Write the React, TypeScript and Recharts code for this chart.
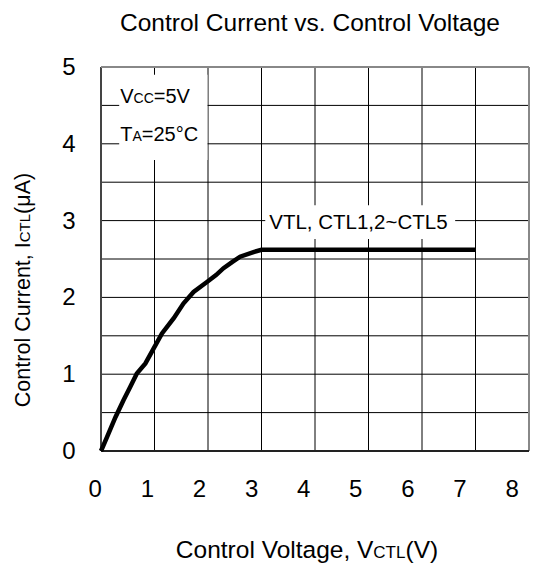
import React from "react";
import {
  CartesianGrid,
  Line,
  LineChart,
  ReferenceArea,
  ReferenceLine,
  XAxis,
  YAxis,
} from "recharts";

// control voltage (V) vs control current (uA)
const vctl = [0, 0.1, 0.27, 0.42, 0.55, 0.67, 0.83, 0.98, 1.14, 1.36, 1.54, 1.73, 1.98, 2.15, 2.29, 2.45, 2.6, 2.85, 3.0, 4.0, 5.0, 6.0, 7.0];
const ictl = [0, 0.16, 0.44, 0.66, 0.84, 1.01, 1.14, 1.33, 1.53, 1.73, 1.92, 2.07, 2.2, 2.29, 2.38, 2.46, 2.53, 2.59, 2.62, 2.62, 2.62, 2.62, 2.62];

const xTicks = [0, 1, 2, 3, 4, 5, 6, 7, 8];
const yTicks = [0, 0.5, 1, 1.5, 2, 2.5, 3, 3.5, 4, 4.5, 5];

const rows = vctl.map((v, i) => ({ v, i: ictl[i] }));

const W = 534;
const H = 567;
const PLOT_TOP = 67;
const PLOT_BOTTOM = 451;
const FONT = "'Liberation Sans', Arial, sans-serif";

const XTick = (props: any) => {
  const { x, payload } = props;
  const v = payload.value as number;
  // printed labels sit a little left of the grid lines, more so to the right
  const dx = -(5.7 + 1.4 * v);
  return (
    <text x={x + dx} y={PLOT_BOTTOM + 46} textAnchor="middle" fontSize={24} fill="#000" fontFamily={FONT}>
      {v}
    </text>
  );
};

const YTick = (props: any) => {
  const { y, payload } = props;
  const v = payload.value as number;
  if (v % 1 !== 0) return null;
  return (
    <text x={69} y={y + 8} textAnchor="middle" fontSize={24} fill="#000" fontFamily={FONT}>
      {v}
    </text>
  );
};

const CondLabel = (props: any) => {
  const { viewBox } = props;
  const x = viewBox.x + 1;
  return (
    <g fontFamily={FONT} fill="#000">
      <text x={x} y={viewBox.y + 28} fontSize={20}>
        V<tspan fontSize={14}>CC</tspan>=5V
      </text>
      <text x={x} y={viewBox.y + 66} fontSize={20}>
        T<tspan fontSize={14}>A</tspan>=25°C
      </text>
    </g>
  );
};

const CurveLabel = (props: any) => {
  const { viewBox } = props;
  return (
    <text x={viewBox.x + 4} y={viewBox.y + 24} fontSize={20.5} fontFamily={FONT} fill="#000">
      VTL, CTL1,2~CTL5
    </text>
  );
};

export default function App() {
  return (
    <div style={{ position: "absolute", left: 0, top: 0, width: W, height: H, background: "#fff" }}>
      <LineChart width={W} height={H} data={rows} margin={{ top: PLOT_TOP, right: 5, bottom: 0, left: 0 }}>
        <text x={310} y={31} textAnchor="middle" fontSize={24.5} fontFamily={FONT} fill="#000">
          Control Current vs. Control Voltage
        </text>
        <text x={307} y={558} textAnchor="middle" fontSize={24.5} fontFamily={FONT} fill="#000">
          Control Voltage, V<tspan fontSize={17}>CTL</tspan>(V)
        </text>
        <text
          x={30}
          y={290}
          textAnchor="middle"
          fontSize={21.5}
          fontFamily={FONT}
          fill="#000"
          transform="rotate(-90 30 290)"
        >
          Control Current, I<tspan fontSize={15}>CTL</tspan>(μA)
        </text>
        <CartesianGrid stroke="#000" strokeWidth={1} />
        <XAxis
          dataKey="v"
          type="number"
          domain={[0, 8]}
          ticks={xTicks}
          axisLine={false}
          tickLine={false}
          tick={<XTick />}
          height={116}
          interval={0}
        />
        <YAxis
          type="number"
          domain={[0, 5]}
          ticks={yTicks}
          axisLine={false}
          tickLine={false}
          tick={<YTick />}
          width={101}
          interval={0}
        />
        <ReferenceLine x={0} stroke="#444" strokeWidth={2} />
        <ReferenceLine x={8} stroke="#888" strokeWidth={2} />
        <ReferenceLine y={0} stroke="#222" strokeWidth={2} />
        <ReferenceLine y={5} stroke="#888" strokeWidth={2} />
        <ReferenceArea
          x1={0.34}
          x2={1.99}
          y1={3.79}
          y2={4.9}
          fill="#fff"
          fillOpacity={1}
          stroke="none"
          label={<CondLabel />}
        />
        <ReferenceArea
          x1={3.07}
          x2={6.62}
          y1={2.76}
          y2={3.2}
          fill="#fff"
          fillOpacity={1}
          stroke="none"
          label={<CurveLabel />}
        />
        <Line
          type="linear"
          dataKey="i"
          stroke="#000"
          strokeWidth={4.5}
          dot={false}
          isAnimationActive={false}
        />
      </LineChart>
    </div>
  );
}
